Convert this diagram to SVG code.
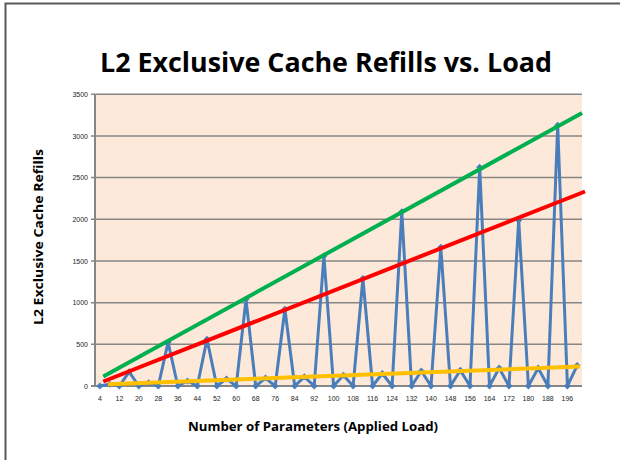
<svg xmlns="http://www.w3.org/2000/svg" width="620" height="460" viewBox="0 0 620 460">
  <style>
    .frame { stroke: #595959; stroke-width: 2; fill: none; }
    .plot { fill: #fde9d9; }
    .grid { stroke: #868686; stroke-width: 1.5; }
    .axis { stroke: #868686; stroke-width: 2; }
    .tick { font-family: "Liberation Sans", Arial, sans-serif; font-size: 7px; fill: #262626; }
    .ylab { text-anchor: end; }
    .xlab { text-anchor: middle; }
    .title { font-family: "Open Sans", "Liberation Sans", Arial, sans-serif; font-weight: bold; fill: #000; text-anchor: middle; }
    .series { fill: none; stroke: #4a7ebb; stroke-width: 3; stroke-linejoin: round; }
    .trend { stroke-width: 4; stroke-linecap: butt; }
  </style>
  <defs>
    <marker id="diamond" viewBox="-4 -4 8 8" markerWidth="8" markerHeight="8" markerUnits="userSpaceOnUse" refX="0" refY="0">
      <path d="M0,-3.5 L3.5,0 L0,3.5 L-3.5,0 Z" fill="#4a7ebb"/>
    </marker>
  </defs>

  <!-- outer frame (top and left edges) -->
  <path class="frame" d="M5.5,460 V3.5 H620"/>

  <!-- chart title -->
  <text class="title" x="326" y="72" font-size="26" textLength="452" lengthAdjust="spacingAndGlyphs">L2 Exclusive Cache Refills vs. Load</text>

  <!-- plot area with horizontal gridlines -->
  <g id="plot-area">
    <rect class="plot" x="95" y="94.3" width="487" height="291.7"/>
    <g class="grid">
      <line x1="91" y1="94.3" x2="582" y2="94.3"/>
      <line x1="91" y1="136" x2="582" y2="136"/>
      <line x1="91" y1="177.6" x2="582" y2="177.6"/>
      <line x1="91" y1="219.3" x2="582" y2="219.3"/>
      <line x1="91" y1="261" x2="582" y2="261"/>
      <line x1="91" y1="302.7" x2="582" y2="302.7"/>
      <line x1="91" y1="344.3" x2="582" y2="344.3"/>
    </g>
    <line class="axis" x1="95" y1="94" x2="95" y2="386"/>
    <line class="axis" x1="91" y1="386" x2="582" y2="386"/>
  </g>

  <!-- y axis values -->
  <g id="y-axis" class="tick ylab">
    <text x="88" y="96.8">3500</text>
    <text x="88" y="138.5">3000</text>
    <text x="88" y="180.1">2500</text>
    <text x="88" y="221.8">2000</text>
    <text x="88" y="263.5">1500</text>
    <text x="88" y="305.2">1000</text>
    <text x="88" y="346.8">500</text>
    <text x="88" y="388.5">0</text>
  </g>

  <!-- x axis categories -->
  <g id="x-axis" class="tick xlab">
    <text x="99.9" y="401">4</text>
    <text x="119.4" y="401">12</text>
    <text x="138.8" y="401">20</text>
    <text x="158.3" y="401">28</text>
    <text x="177.8" y="401">36</text>
    <text x="197.3" y="401">44</text>
    <text x="216.8" y="401">52</text>
    <text x="236.2" y="401">60</text>
    <text x="255.7" y="401">68</text>
    <text x="275.2" y="401">76</text>
    <text x="294.7" y="401">84</text>
    <text x="314.2" y="401">92</text>
    <text x="333.6" y="401">100</text>
    <text x="353.1" y="401">108</text>
    <text x="372.6" y="401">116</text>
    <text x="392.1" y="401">124</text>
    <text x="411.6" y="401">132</text>
    <text x="431.0" y="401">140</text>
    <text x="450.5" y="401">148</text>
    <text x="470.0" y="401">156</text>
    <text x="489.5" y="401">164</text>
    <text x="509.0" y="401">172</text>
    <text x="528.4" y="401">180</text>
    <text x="547.9" y="401">188</text>
    <text x="567.4" y="401">196</text>
  </g>

  <!-- axis titles -->
  <text class="title" x="313" y="431" font-size="12.5" textLength="250" lengthAdjust="spacingAndGlyphs">Number of Parameters (Applied Load)</text>
  <text class="title" transform="translate(42.5,237) rotate(-90)" font-size="12.5" textLength="176" lengthAdjust="spacingAndGlyphs">L2 Exclusive Cache Refills</text>

  <!-- measured refills -->
  <g id="refills-series">
    <polyline class="series" marker-start="url(#diamond)" marker-mid="url(#diamond)" marker-end="url(#diamond)"
      points="99.9,386 109.6,384.3 119.4,386 129.1,371.8 138.8,386 148.6,382.7 158.3,386 168.1,342.2 177.8,386 187.5,381 197.3,386 207,339.3 216.8,386 226.5,378.9 236.2,386 246,299.3 255.7,386 265.5,378.1 275.2,386 284.9,309.3 294.7,386 304.4,376.8 314.2,386 323.9,256 333.6,386 343.4,375.2 353.1,386 362.9,278.5 372.6,386 382.3,373.5 392.1,386 401.8,211.8 411.6,386 421.3,371 431,386 440.8,247.3 450.5,386 460.3,370.2 470,386 479.7,167.3 489.5,386 499.2,368.1 509,386 518.7,220.2 528.4,386 538.2,368.1 547.9,386 557.7,125.2 567.4,386 577.1,365.6"/>
  </g>

  <!-- trend lines -->
  <g id="trendlines" class="trend">
    <line x1="103.3" y1="376.5" x2="582" y2="113" stroke="#00b050"/>
    <line x1="103.3" y1="381.5" x2="585" y2="191.5" stroke="#ff0000"/>
    <line x1="108" y1="384.3" x2="580" y2="366.5" stroke="#ffc000"/>
  </g>
</svg>
